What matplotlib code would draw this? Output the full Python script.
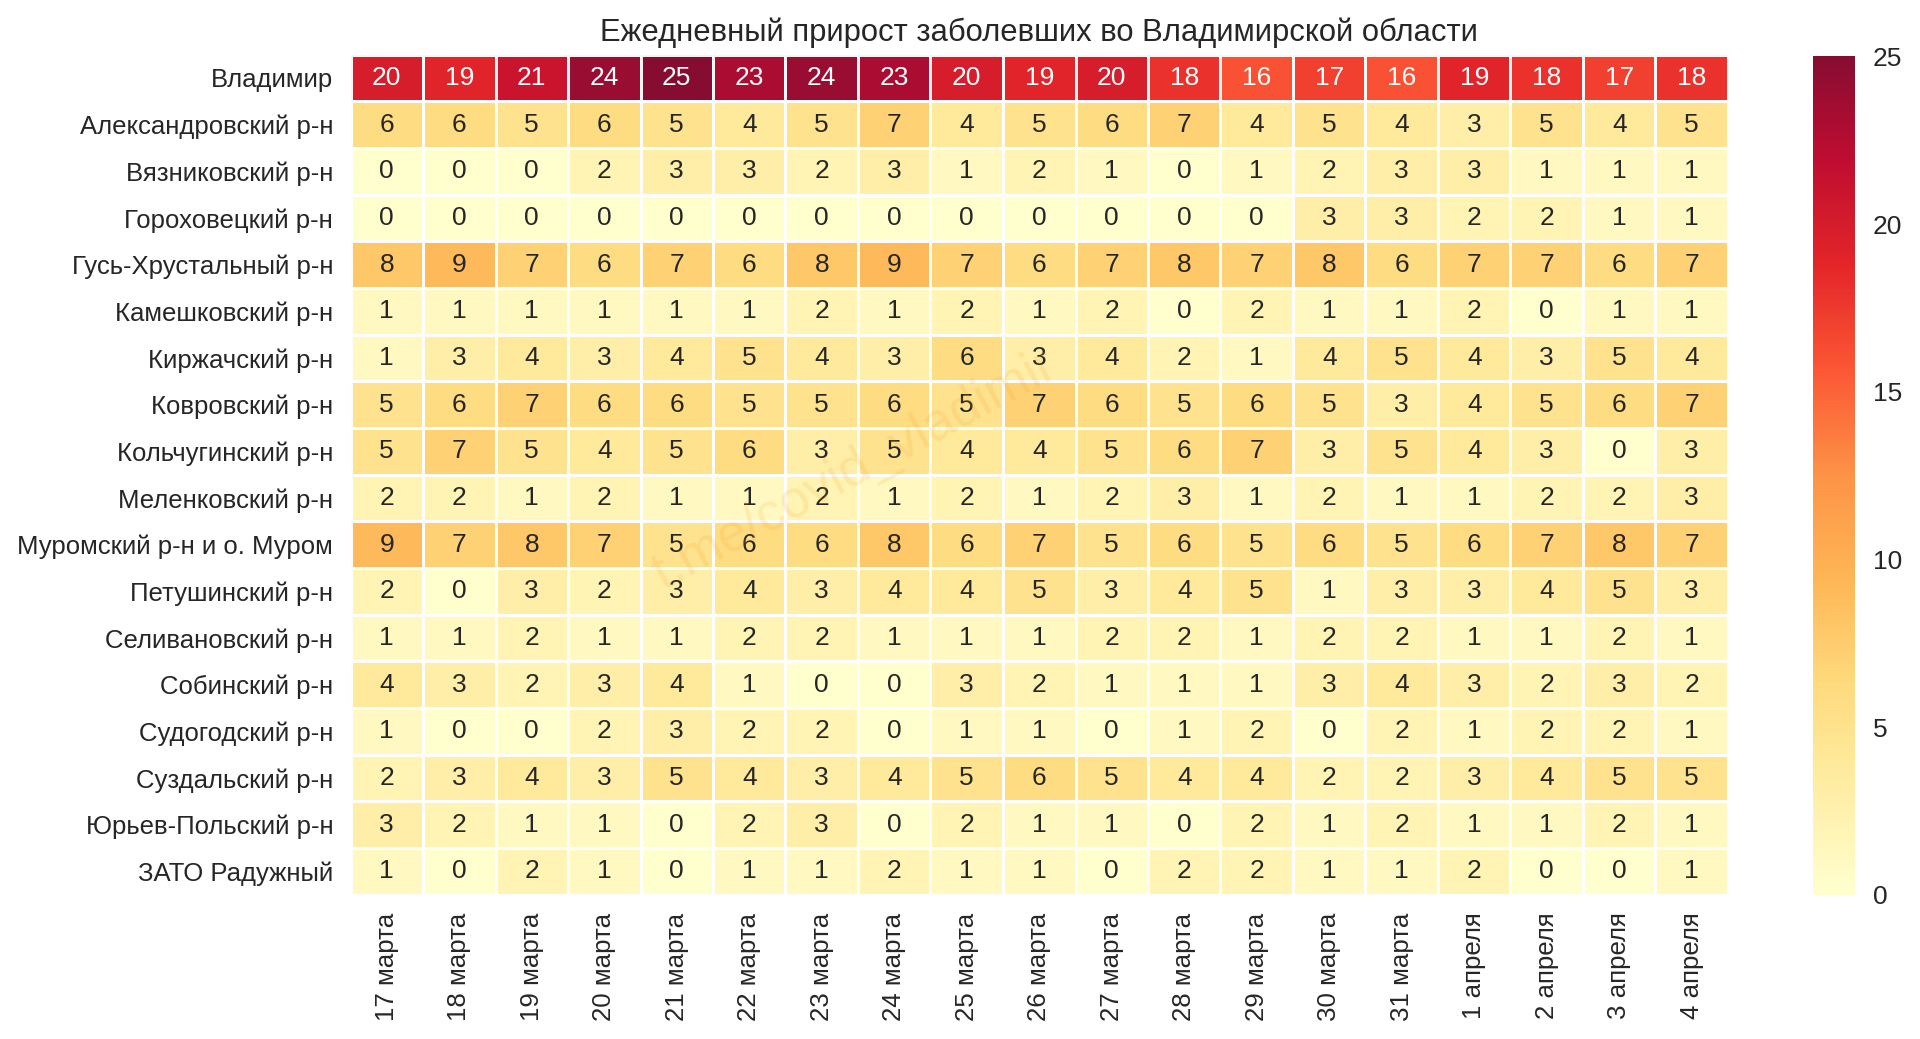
import numpy as np
import matplotlib
matplotlib.use('Agg')
import matplotlib.pyplot as plt
from matplotlib.transforms import ScaledTranslation
import seaborn as sns

districts = ['Владимир', 'Александровский р-н', 'Вязниковский р-н', 'Гороховецкий р-н',
             'Гусь-Хрустальный р-н', 'Камешковский р-н', 'Киржачский р-н', 'Ковровский р-н',
             'Кольчугинский р-н', 'Меленковский р-н', 'Муромский р-н и о. Муром',
             'Петушинский р-н', 'Селивановский р-н', 'Собинский р-н', 'Судогодский р-н',
             'Суздальский р-н', 'Юрьев-Польский р-н', 'ЗАТО Радужный']

dates = ['17 марта', '18 марта', '19 марта', '20 марта', '21 марта', '22 марта', '23 марта',
         '24 марта', '25 марта', '26 марта', '27 марта', '28 марта', '29 марта', '30 марта',
         '31 марта', '1 апреля', '2 апреля', '3 апреля', '4 апреля']

vladimir = [20, 19, 21, 24, 25, 23, 24, 23, 20, 19, 20, 18, 16, 17, 16, 19, 18, 17, 18]
aleksandrov = [6, 6, 5, 6, 5, 4, 5, 7, 4, 5, 6, 7, 4, 5, 4, 3, 5, 4, 5]
vyazniki = [0, 0, 0, 2, 3, 3, 2, 3, 1, 2, 1, 0, 1, 2, 3, 3, 1, 1, 1]
gorokhovets = [0, 0, 0, 0, 0, 0, 0, 0, 0, 0, 0, 0, 0, 3, 3, 2, 2, 1, 1]
gus = [8, 9, 7, 6, 7, 6, 8, 9, 7, 6, 7, 8, 7, 8, 6, 7, 7, 6, 7]
kameshkovo = [1, 1, 1, 1, 1, 1, 2, 1, 2, 1, 2, 0, 2, 1, 1, 2, 0, 1, 1]
kirzhach = [1, 3, 4, 3, 4, 5, 4, 3, 6, 3, 4, 2, 1, 4, 5, 4, 3, 5, 4]
kovrov = [5, 6, 7, 6, 6, 5, 5, 6, 5, 7, 6, 5, 6, 5, 3, 4, 5, 6, 7]
kolchugino = [5, 7, 5, 4, 5, 6, 3, 5, 4, 4, 5, 6, 7, 3, 5, 4, 3, 0, 3]
melenki = [2, 2, 1, 2, 1, 1, 2, 1, 2, 1, 2, 3, 1, 2, 1, 1, 2, 2, 3]
murom = [9, 7, 8, 7, 5, 6, 6, 8, 6, 7, 5, 6, 5, 6, 5, 6, 7, 8, 7]
petushki = [2, 0, 3, 2, 3, 4, 3, 4, 4, 5, 3, 4, 5, 1, 3, 3, 4, 5, 3]
selivanovo = [1, 1, 2, 1, 1, 2, 2, 1, 1, 1, 2, 2, 1, 2, 2, 1, 1, 2, 1]
sobinka = [4, 3, 2, 3, 4, 1, 0, 0, 3, 2, 1, 1, 1, 3, 4, 3, 2, 3, 2]
sudogda = [1, 0, 0, 2, 3, 2, 2, 0, 1, 1, 0, 1, 2, 0, 2, 1, 2, 2, 1]
suzdal = [2, 3, 4, 3, 5, 4, 3, 4, 5, 6, 5, 4, 4, 2, 2, 3, 4, 5, 5]
yuryev = [3, 2, 1, 1, 0, 2, 3, 0, 2, 1, 1, 0, 2, 1, 2, 1, 1, 2, 1]
raduzhny = [1, 0, 2, 1, 0, 1, 1, 2, 1, 1, 0, 2, 2, 1, 1, 2, 0, 0, 1]

cases = np.array([vladimir, aleksandrov, vyazniki, gorokhovets, gus, kameshkovo, kirzhach,
                  kovrov, kolchugino, melenki, murom, petushki, selivanovo, sobinka, sudogda,
                  suzdal, yuryev, raduzhny])

sns.set_theme(style='white')
plt.rcParams['font.family'] = ['Liberation Sans', 'DejaVu Sans']

W, H = 1920, 1039
fig = plt.figure(figsize=(W / 100, H / 100), dpi=100)
ax = fig.add_axes([350.5 / W, 1 - 894.5 / H, (1728 - 350.5) / W, (894.5 - 54.5) / H])
cax = fig.add_axes([1813 / W, 1 - 894.5 / H, 42 / W, (894.5 - 56) / H])

sns.heatmap(cases, ax=ax, cbar_ax=cax, cmap='YlOrRd', vmin=0, vmax=25, alpha=0.95,
            annot=True, fmt='d', annot_kws={'size': 19}, linewidths=2.0, linecolor='white',
            xticklabels=dates, yticklabels=districts)

ax.set_title('Ежедневный прирост заболевших во Владимирской области', fontsize=22.3,
             color='.15', pad=10)
ax.tick_params(axis='x', length=0, pad=13, labelsize=18.6, labelrotation=90, colors='.15')
ax.tick_params(axis='y', length=0, pad=12.5, labelsize=18.5, labelrotation=0, colors='.15')

# labels sit a little below the cell centres in the original
down = ScaledTranslation(0, -2.5 / 100, fig.dpi_scale_trans)
for lab in ax.get_yticklabels():
    lab.set_transform(lab.get_transform() + down)

cax.tick_params(length=0, pad=13, labelsize=19, colors='.15')
cax.set_yticks([0, 5, 10, 15, 20, 25])
for lab in cax.get_yticklabels():
    lab.set_transform(lab.get_transform() + ScaledTranslation(0, -0.5 / 100, fig.dpi_scale_trans))

fig.text(855 / W, 1 - 470 / H, 't.me/covid_vladimir', fontsize=38, color='#f59a23', alpha=0.15,
         rotation=28.5, ha='center', va='center')

fig.savefig('out.png', dpi=100)
